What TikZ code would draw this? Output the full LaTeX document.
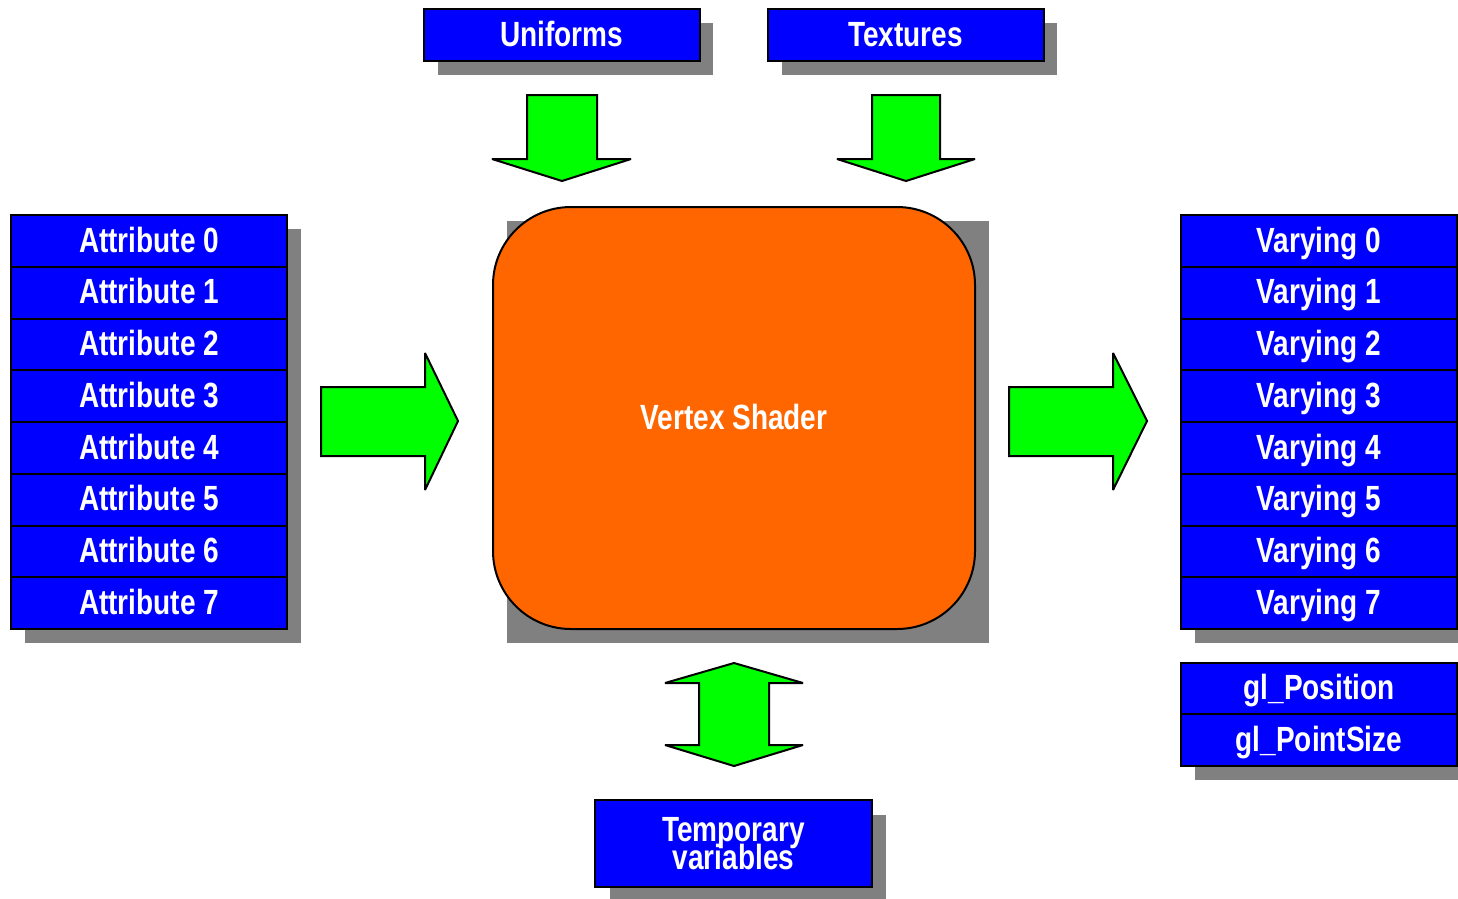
\documentclass[tikz,border=0pt]{standalone}
\usepackage{fontspec}
\setmainfont{Liberation Sans}[FakeStretch=0.8]
\definecolor{boxblue}{HTML}{0000FF}
\definecolor{arrowgreen}{HTML}{00FF00}
\definecolor{shaderorange}{HTML}{FF6600}
\definecolor{shadowgrey}{HTML}{808080}
\newcommand{\labelfont}{\fontsize{35}{28}\selectfont\bfseries}
\lineskiplimit=-50pt\relax
\begin{document}
\begin{tikzpicture}[x=1pt,y=-1pt,
  lbl/.style={font=\labelfont, text=white},
  panel/.style={lbl, draw=black, line width=2pt, fill=boxblue, inner sep=0pt},
  slot/.style={panel, text height=25pt, text depth=3pt,
               minimum width=276pt, minimum height=51.75pt},
  shade/.style={fill=shadowgrey, draw=none},
  blockarrow/.style={fill=arrowgreen, draw=black, line width=2pt,
                     line join=miter, miter limit=2}]
\useasboundingbox (0,0) rectangle (1458,898);

% drop shadows
\fill[shade] (25,229) rectangle (301,643);
\fill[shade] (1195,229) rectangle (1471,643);
\fill[shade] (1195,677) rectangle (1471,780);
\fill[shade] (438,23) rectangle (713,75);
\fill[shade] (782,23) rectangle (1057,75);
\fill[shade] (507,221) rectangle (989,643);
\fill[shade] (610,815) rectangle (886,901);

% inputs: attributes
\foreach \i in {0,...,7} {
  \node[slot] (attr\i) at (149,{241+51.75*\i}) {Attribute \i};
}
% outputs: varyings
\foreach \i in {0,...,7} {
  \node[slot] (vary\i) at (1319,{241+51.75*\i}) {Varying \i};
}
\node[slot] (glpos) at (1319,688.5) {gl\_Position};
\node[slot] (glsize) at (1319,740.25) {gl\_PointSize};

% uniforms and textures
\node[slot, minimum height=52pt] (unif) at (561.5,35) {Uniforms};
\node[slot, minimum height=52pt] (tex) at (905.5,35) {Textures};

% the shader itself
\node[lbl, draw=black, line width=2pt, fill=shaderorange, rounded corners=78pt,
      text height=25pt, text depth=3pt,
      minimum width=482pt, minimum height=422pt] (vs) at (734,418) {Vertex Shader};

% temporary variables
\node[panel, minimum width=277pt, minimum height=87pt, align=center] (temp) at (733.5,843.5)
  {\lineskiplimit=-50pt\relax Temporary\\variables};

% block arrows
\draw[blockarrow] (527,95) -- (597,95) -- (597,159) -- (631,159) -- (562,181)
  -- (492,159) -- (527,159) -- cycle;
\draw[blockarrow] (872,95) -- (940,95) -- (940,159) -- (975,159) -- (906,181)
  -- (837,159) -- (872,159) -- cycle;
\draw[blockarrow] (321,387) -- (425,387) -- (425,353) -- (458,421) -- (425,490)
  -- (425,456) -- (321,456) -- cycle;
\draw[blockarrow] (1009,387) -- (1113,387) -- (1113,353) -- (1147,421) -- (1113,490)
  -- (1113,456) -- (1009,456) -- cycle;
\draw[blockarrow] (734,663) -- (803,683) -- (769,683) -- (769,745) -- (803,745)
  -- (734,766) -- (665,745) -- (699,745) -- (699,683) -- (665,683) -- cycle;
\end{tikzpicture}
\end{document}
